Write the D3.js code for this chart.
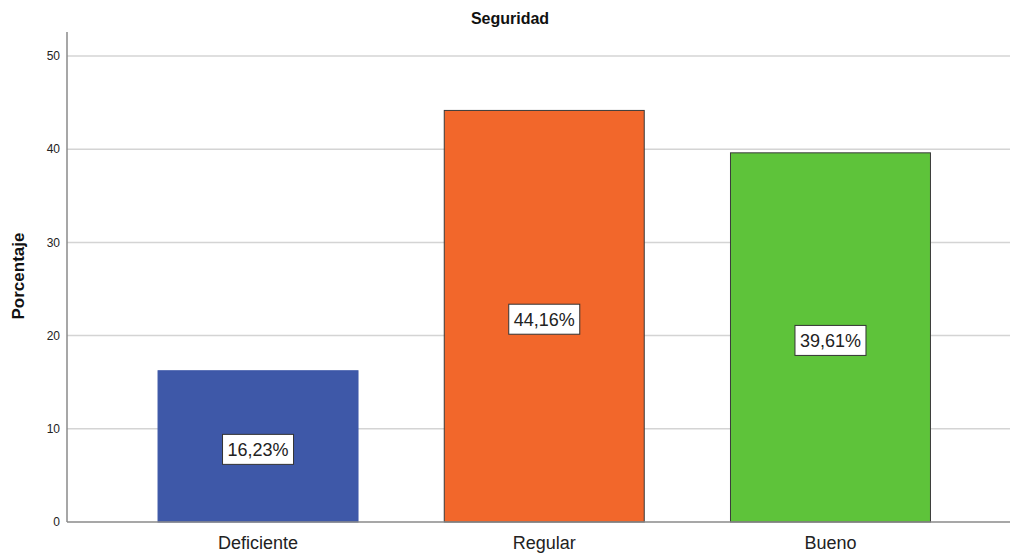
<!DOCTYPE html>
<html><head><meta charset="utf-8">
<script src="https://cdn.jsdelivr.net/npm/d3@7"></script>
<style>body{margin:0;background:#fff}svg{display:block}text{font-family:Arial,"Liberation Sans",sans-serif}</style>
</head><body>
<svg id="c" width="1012" height="554"></svg>
<script>
const categories = ["Deficiente", "Regular", "Bueno"];
const values = [16.23, 44.16, 39.61];
const labels = ["16,23%", "44,16%", "39,61%"];
const colors = ["#3e58a8", "#f2672b", "#5ec33a"];
const strokes = ["#3e58a8", "#3a3a3a", "#3a3a3a"];
const yTicks = [0, 10, 20, 30, 40, 50];

const svg = d3.select("#c");
const y = d3.scaleLinear().domain([0, 50]).range([522, 56]);
const x = d3.scaleBand().domain(categories).range([114.9, 973.6]).paddingInner(0.3013).paddingOuter(0.1507);

// gridlines
svg.append("g").selectAll("line").data(yTicks.filter(d => d > 0)).join("line")
  .attr("x1", 67).attr("x2", 1010).attr("y1", d => y(d)).attr("y2", d => y(d))
  .attr("stroke", "#d4d4d4").attr("stroke-width", 1.5);

// y tick labels
svg.append("g").selectAll("text").data(yTicks).join("text")
  .attr("x", 60).attr("y", d => y(d)).attr("dy", "0.35em").attr("text-anchor", "end")
  .attr("font-size", 12).attr("fill", "#222").text(d => d);

// bars
svg.append("g").selectAll("rect").data(categories).join("rect")
  .attr("x", d => x(d)).attr("width", x.bandwidth())
  .attr("y", (d, i) => y(values[i])).attr("height", (d, i) => y(0) - y(values[i]))
  .attr("fill", (d, i) => colors[i]).attr("stroke", (d, i) => strokes[i]).attr("stroke-width", 1);

// axes lines
svg.append("line").attr("x1", 67).attr("x2", 67).attr("y1", 32).attr("y2", 522).attr("stroke", "#8a8a8a").attr("stroke-width", 1.5);
svg.append("line").attr("x1", 67).attr("x2", 1010).attr("y1", 522).attr("y2", 522).attr("stroke", "#8a8a8a").attr("stroke-width", 1.5);

// value labels
const lg = svg.append("g").selectAll("g").data(categories).join("g")
  .attr("transform", (d, i) => `translate(${x(d) + x.bandwidth() / 2},${y(values[i] / 2) + 3})`);
lg.append("rect").attr("x", -35.5).attr("y", -15).attr("width", 71).attr("height", 30)
  .attr("fill", "#fff").attr("stroke", "#333").attr("stroke-width", 1);
lg.append("text").attr("text-anchor", "middle").attr("dy", "0.36em").attr("font-size", 18)
  .attr("fill", "#222").text((d, i) => labels[i]);

// category labels
svg.append("g").selectAll("text").data(categories).join("text")
  .attr("x", d => x(d) + x.bandwidth() / 2).attr("y", 549).attr("text-anchor", "middle")
  .attr("font-size", 18).attr("fill", "#222").text(d => d);

// title
svg.append("text").attr("x", 510).attr("y", 24).attr("text-anchor", "middle")
  .attr("font-size", 16).attr("font-weight", "bold").attr("fill", "#111").text("Seguridad");

// y title
svg.append("text").attr("transform", "translate(24,276) rotate(-90)").attr("text-anchor", "middle")
  .attr("font-size", 17).attr("font-weight", "bold").attr("fill", "#111").text("Porcentaje");
</script>
</body></html>
